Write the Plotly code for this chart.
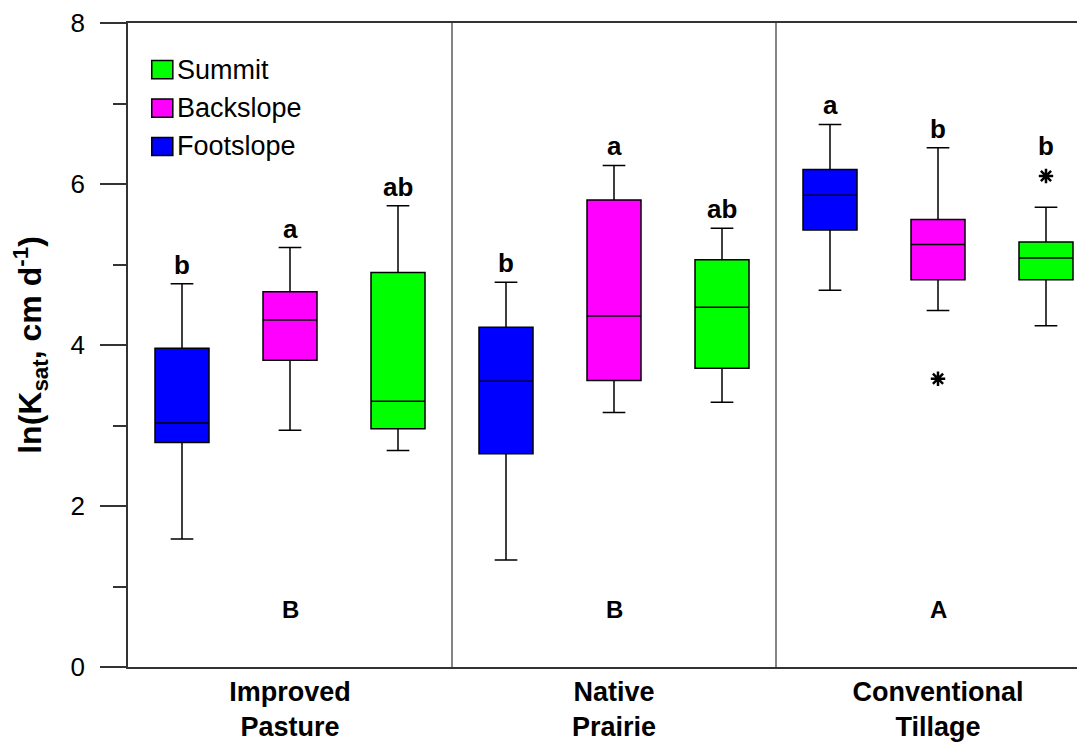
import plotly.graph_objects as go

# ---------------- data ----------------
treatments = ["Improved<br>Pasture", "Native<br>Prairie", "Conventional<br>Tillage"]
slope_names = ["Footslope", "Backslope", "Summit"]
slope_colors = ["#0000FF", "#FF00FF", "#00FF00"]

foot_lower = [1.59, 1.33, 4.68]
foot_q1 = [2.79, 2.65, 5.43]
foot_median = [3.03, 3.55, 5.86]
foot_q3 = [3.96, 4.22, 6.18]
foot_upper = [4.76, 4.78, 6.74]

back_lower = [2.94, 3.16, 4.43]
back_q1 = [3.81, 3.56, 4.81]
back_median = [4.31, 4.36, 5.25]
back_q3 = [4.66, 5.80, 5.56]
back_upper = [5.21, 6.23, 6.45]

summ_lower = [2.69, 3.29, 4.24]
summ_q1 = [2.96, 3.71, 4.81]
summ_median = [3.30, 4.47, 5.08]
summ_q3 = [4.90, 5.06, 5.28]
summ_upper = [5.73, 5.45, 5.71]

# outliers: (treatment index, value)
foot_outliers = []
back_outliers = [(2, 3.58)]
summ_outliers = [(2, 6.10)]

foot_letters = ["b", "b", "a"]
back_letters = ["a", "a", "b"]
summ_letters = ["ab", "ab", "b"]
treatment_letters = ["B", "B", "A"]

y_ticks = [0, 2, 4, 6, 8]
y_minor_ticks = [1, 3, 5, 7]

# ---------------- figure ----------------
FONT = "Liberation Sans, Arial, sans-serif"
series = [
    (foot_lower, foot_q1, foot_median, foot_q3, foot_upper, foot_outliers, foot_letters),
    (back_lower, back_q1, back_median, back_q3, back_upper, back_outliers, back_letters),
    (summ_lower, summ_q1, summ_median, summ_q3, summ_upper, summ_outliers, summ_letters),
]

fig = go.Figure()
annotations = []
for k, (lo, q1, med, q3, up, outl, letters) in enumerate(series):
    xs = [g * 3 + k for g in range(len(treatments))]
    fig.add_trace(go.Box(
        x=xs, q1=q1, median=med, q3=q3, lowerfence=lo, upperfence=up,
        name=slope_names[k], width=0.5, whiskerwidth=0.42,
        fillcolor=slope_colors[k], line=dict(color="black", width=1.5),
        boxpoints=False, showlegend=False,
    ))
    if outl:
        fig.add_trace(go.Scatter(
            x=[g * 3 + k for g, _ in outl], y=[v for _, v in outl],
            mode="markers", showlegend=False,
            marker=dict(symbol="asterisk-open", size=12, color="black",
                        line=dict(color="black", width=2.5)),
        ))
    for g in range(len(treatments)):
        top = up[g]
        shift = 19
        for gg, v in outl:
            if gg == g and v > top:
                top = v
                shift = 30
        annotations.append(dict(
            x=g * 3 + k, y=top, text=letters[g], showarrow=False,
            yanchor="middle", yshift=shift,
            font=dict(family=FONT, size=26, color="black", weight="bold"),
        ))

for g, t in enumerate(treatment_letters):
    annotations.append(dict(
        x=g * 3 + 1, y=0.71, text=t, showarrow=False, yanchor="middle",
        font=dict(family=FONT, size=24, color="black", weight="bold"),
    ))

# manual legend (Summit, Backslope, Footslope from top)
shapes = []
legend_order = [2, 1, 0]
for i, k in enumerate(legend_order):
    yc = 7.42 - i * 0.477
    shapes.append(dict(type="rect", xref="x", yref="y",
                       x0=-0.28, x1=-0.085, y0=yc - 0.113, y1=yc + 0.113,
                       fillcolor=slope_colors[k], line=dict(color="black", width=1.5)))
    annotations.append(dict(
        x=-0.065, y=yc, text=slope_names[k], showarrow=False,
        xanchor="left", yanchor="middle",
        font=dict(family=FONT, size=27, color="black"),
    ))

# group dividers
for xd in [2.5, 5.5]:
    shapes.append(dict(type="line", xref="x", yref="y", x0=xd, x1=xd, y0=0, y1=8,
                       line=dict(color="#333333", width=1.2)))

# page body has an 8px margin: size the figure so the plot lands where it should
fig.update_layout(
    width=1077, height=734,
    margin=dict(l=120, r=0, t=15, b=65),
    paper_bgcolor="white", plot_bgcolor="white",
    font=dict(family=FONT, color="black"),
    shapes=shapes, annotations=annotations,
    xaxis=dict(
        range=[-0.5, -0.5 + 957 / 108],
        tickvals=[1, 4, 7], ticktext=treatments,
        ticks="", showgrid=False, zeroline=False,
        showline=True, mirror=True, linecolor="#333333", linewidth=1.5,
        tickfont=dict(family=FONT, size=27, color="black", weight="bold"),
        ticklabelstandoff=0,
    ),
    yaxis=dict(
        range=[0, 8], tickvals=y_ticks, ticks="outside", ticklen=26,
        tickwidth=1.5, tickcolor="#333333",
        minor=dict(tickvals=y_minor_ticks, ticks="outside", ticklen=13,
                   tickwidth=1.5, tickcolor="#333333"),
        showgrid=False, zeroline=False,
        showline=True, linecolor="#333333", linewidth=1.5,
        tickfont=dict(family=FONT, size=26, color="black"),
        ticklabelstandoff=10,
        title=dict(text="ln(K<sub>sat</sub>, cm d<sup>-1</sup>)",
                   font=dict(family=FONT, size=32, color="black", weight="bold"),
                   standoff=20),
    ),
)

fig.write_html("out.html")
